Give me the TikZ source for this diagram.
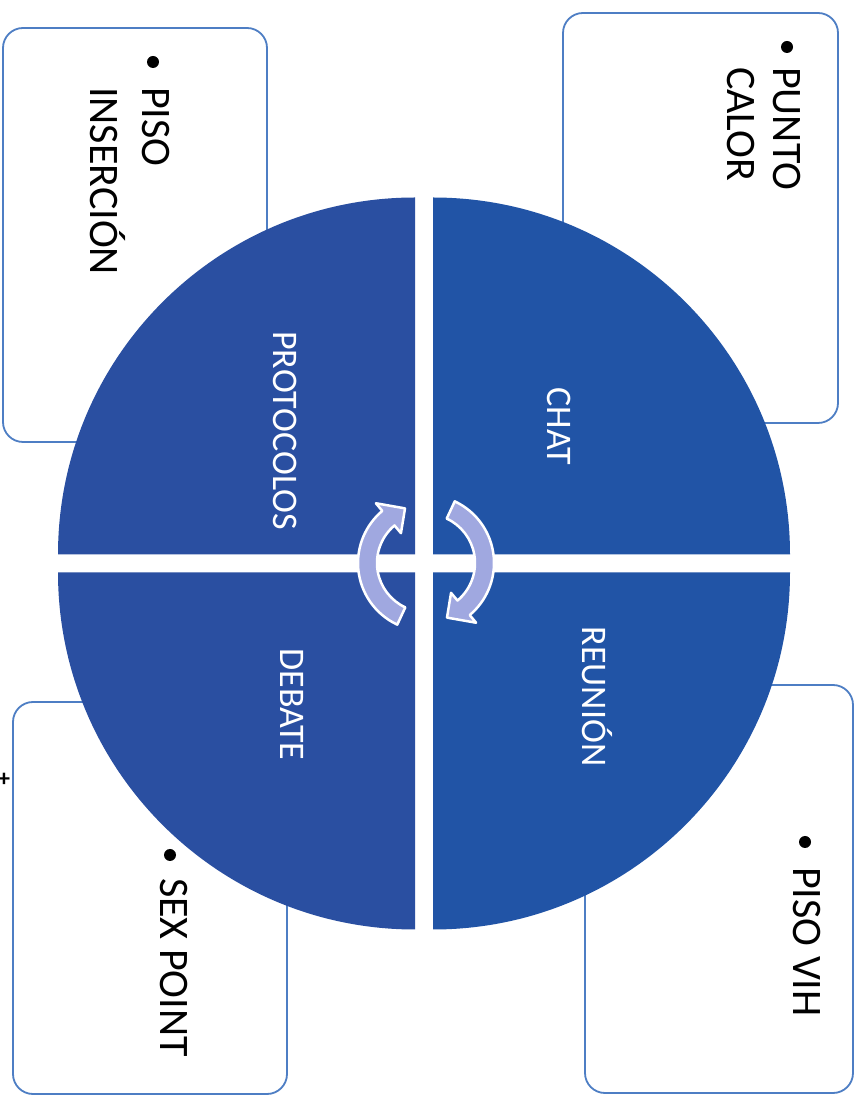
\documentclass[tikz,border=0pt]{standalone}
\usepackage{fontspec}
\setmainfont{Carlito}
\usetikzlibrary{calc}
\definecolor{quadR}{RGB}{33,84,166}
\definecolor{quadL}{RGB}{42,79,161}
\definecolor{boxline}{RGB}{78,126,196}
\definecolor{arrowfill}{RGB}{160,168,224}
\tikzset{
  sidebox/.style={draw=boxline, line width=1.8pt, fill=white, rounded corners=20pt, inner sep=0pt},
  boxtext/.style={rotate=-90, anchor=base west, inner sep=0pt, font=\fontsize{42}{50}\selectfont, text=black},
  quadlabel/.style={rotate=-90, anchor=base, inner sep=0pt, font=\fontsize{36}{43}\selectfont, text=white},
  bulletdot/.style={circle, fill=black, inner sep=0pt, minimum size=12pt},
  cyclearrow/.style={fill=arrowfill, draw=white, line width=2.5pt, line join=round}
}
\begin{document}
\begin{tikzpicture}[x=1pt,y=1pt]
\useasboundingbox[fill=white] (0,0) rectangle (862,1096);
% side boxes
\node[sidebox, minimum width=275pt, minimum height=410pt] (boxPC) at (700.5,878) {};
\node[sidebox, minimum width=264pt, minimum height=414pt] (boxPI) at (135,861) {};
\node[sidebox, minimum width=274pt, minimum height=392pt] (boxSP) at (150,198) {};
\node[sidebox, minimum width=268pt, minimum height=408pt] (boxPV) at (719,207) {};
% quadrants
\fill[quadR] (433,541.5) -- ++(357,0) arc[start angle=0,end angle=90,radius=357] -- cycle;
\fill[quadL] (415,541.5) -- ++(0,357) arc[start angle=90,end angle=180,radius=357] -- cycle;
\fill[quadL] (415,523.5) -- ++(-357,0) arc[start angle=180,end angle=270,radius=357] -- cycle;
\fill[quadR] (433,523.5) -- ++(0,-357) arc[start angle=270,end angle=360,radius=357] -- cycle;
% quadrant labels
\node[quadlabel] (lchat) at (547,670) {CHAT};
\node[quadlabel] (lprot) at (273,665.5) {PROTOCOLOS};
\node[quadlabel] (lreun) at (582,399.5) {REUNIÓN};
\node[quadlabel] (ldeb) at (280,391.5) {DEBATE};
% cycle arrows
\begin{scope}[shift={(426,533)}]
  \draw[cyclearrow] (245:68) arc[start angle=245,end angle=130,radius=68]
     -- (130:78) -- (111:58.5) -- (130:39) -- (130:49)
     arc[start angle=130,end angle=245,radius=49] -- cycle;
  \draw[cyclearrow] (65:68) arc[start angle=65,end angle=-50,radius=68]
     -- (-50:78) -- (-69:58.5) -- (-50:39) -- (-50:49)
     arc[start angle=-50,end angle=65,radius=49] -- cycle;
\end{scope}
% box texts
\node[bulletdot] (b1) at (787,1049) {};
\node[boxtext] (t1a) at (773,1029) {PUNTO};
\node[boxtext] (t1b) at (727,1029) {CALOR};
\node[bulletdot] (b2) at (153,1034) {};
\node[boxtext] (t2a) at (142,1009) {PISO};
\node[boxtext] (t2b) at (90,1009) {INSERCIÓN};
\node[bulletdot] (b3) at (170,241) {};
\node[boxtext] (t3) at (160,218) {SEX POINT};
\node[bulletdot] (b4) at (805,254) {};
\node[boxtext] (t4) at (793,229) {PISO VIH};
\node[inner sep=0pt, font=\fontsize{24}{24}\selectfont\bfseries] (mark) at (4,316) {+};
\end{tikzpicture}
\end{document}
